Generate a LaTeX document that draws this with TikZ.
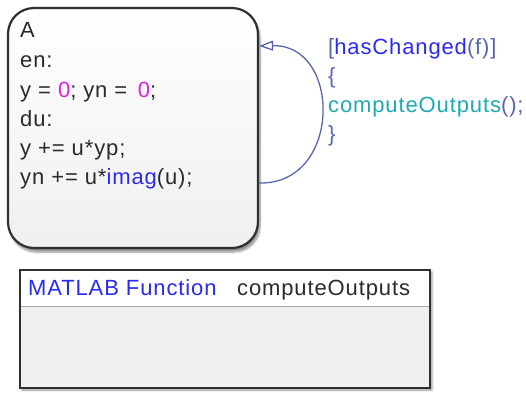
\documentclass[tikz,border=0pt]{standalone}
\usepackage{fontspec}
\setmainfont{Liberation Sans}[LetterSpace=4]
\usetikzlibrary{arrows.meta,shadows.blur,calc}
\definecolor{mag}{HTML}{E020E0}
\definecolor{kwblue}{HTML}{2A2AF0}
\definecolor{trans}{HTML}{5866B0}
\definecolor{teal}{HTML}{1EAAB4}
\definecolor{txt}{HTML}{2A2A2A}
\definecolor{border}{HTML}{303030}
\tikzset{
  line/.style={inner sep=0pt, anchor=base west, font=\fontsize{22}{29}\selectfont, text=txt},
  statebox/.style={draw=border, line width=2.2pt, rounded corners=26pt,
    top color=white, bottom color=black!6,
    blur shadow={shadow xshift=2pt, shadow yshift=-4pt, shadow blur steps=6, shadow opacity=45}},
  funbox/.style={draw=border, line width=1.8pt, fill=black!6,
    blur shadow={shadow xshift=2pt, shadow yshift=-2pt, shadow blur steps=3, shadow opacity=40}},
  transline/.style={draw=trans, line width=1.3pt},
}
\begin{document}
\begin{tikzpicture}[x=1pt,y=-1pt]
\useasboundingbox (0,0) rectangle (526,392);
% state A
\node[statebox, minimum width=250pt, minimum height=240pt, inner sep=0pt] (A) at (133,128) {};
\node[line] (l1) at (20,37) {A};
\node[line] (l2) at (20,67) {en:};
\node[line] (l3) at (20,97) {y = {\color{mag}0}; yn = \,{\color{mag}0};};
\node[line] (l4) at (20,126) {du:};
\node[line] (l5) at (20,155) {y += u*yp;};
\node[line] (l6) at (20,184) {yn += u*{\color{kwblue}imag}(u);};
% self transition
\coordinate (Aout) at (A.east |- 0,183);
\coordinate (Ain) at (A.east |- 0,46);
\draw[transline, -{Triangle[open, length=14pt, width=10pt]}] (Aout) .. controls (342,185) and (342,44) .. (Ain);
% transition label
\node[line, text=trans] (t1) at (328,54) {[{\color{kwblue}hasChanged}(f)]};
\node[line, text=trans] (t2) at (328,83) {\{};
\node[line, text=trans] (t3) at (328,112) {{\color{teal}computeOutputs}();};
\node[line, text=trans] (t4) at (328,141) {\}};
% MATLAB function box
\node[funbox, minimum width=410pt, minimum height=118pt, inner sep=0pt,
  path picture={\fill[white] (path picture bounding box.north west) rectangle ([yshift=-36pt]path picture bounding box.north east);
                \draw[black!35, line width=1pt] ([yshift=-36pt]path picture bounding box.north west) -- ([yshift=-36pt]path picture bounding box.north east);}]
  (F) at (225,329) {};
\node[line, text=kwblue] (f1) at (28,295) {MATLAB Function};
\node[line] (f2) at (237,295) {computeOutputs};
\end{tikzpicture}
\end{document}
